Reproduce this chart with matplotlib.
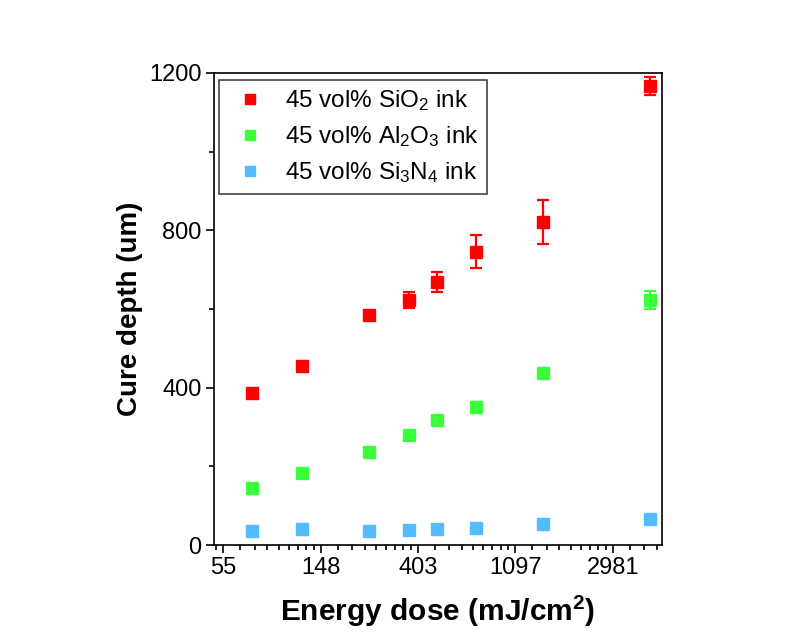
import numpy as np
import matplotlib
matplotlib.use("Agg")
import matplotlib.pyplot as plt
from matplotlib.lines import Line2D
from matplotlib.ticker import FixedLocator, FixedFormatter

plt.rcParams['font.family'] = ['Liberation Sans', 'DejaVu Sans']
plt.rcParams['mathtext.fontset'] = 'custom'
plt.rcParams['mathtext.rm'] = 'Liberation Sans'
plt.rcParams['mathtext.it'] = 'Liberation Sans:italic'
plt.rcParams['mathtext.bf'] = 'Liberation Sans:bold'

# energy dose (mJ/cm2)
dose = [73.2, 122, 244, 366, 488, 732, 1464, 4392]

sio2 = [386, 456, 584, 623, 669, 745, 821, 1167]
sio2_err = [8, 8, 6, 20, 26, 42, 56, 22]
al2o3 = [145, 182, 236, 280, 317, 352, 438, 623]
al2o3_err = [5, 6, 7, 6, 5, 7, 8, 23]
si3n4 = [36, 40, 36, 37, 41, 44, 53, 67]
si3n4_err = [5, 14, 6, 4, 6, 5, 6, 7]

labels = ['45 vol% SiO$_2$ ink', '45 vol% Al$_2$O$_3$ ink', '45 vol% Si$_3$N$_4$ ink']
colors = ['#ff0000', '#3cff3c', '#55bbff']

xtick_exp = [4, 5, 6, 7, 8]
xtick_labels = ['55', '148', '403', '1097', '2981']

fig = plt.figure(figsize=(8, 6.38), dpi=100)
ax = fig.add_axes([214/800, 1 - 545/638, 448/800, 472/638])

for y, e, c in zip([sio2, al2o3, si3n4], [sio2_err, al2o3_err, si3n4_err], colors):
    ax.errorbar(dose, y, yerr=e, fmt='s', color=c, ecolor=c, markersize=8,
                elinewidth=1.6, capsize=4, capthick=1.6)

ax.set_xscale('log', base=np.e)
ax.set_xlim(np.exp(3.904), np.exp(8.507))
ax.set_ylim(0, 1200)

ax.xaxis.set_major_locator(FixedLocator(np.exp(xtick_exp)))
ax.xaxis.set_major_formatter(FixedFormatter(xtick_labels))
minor = []
for n in range(3, 9):
    lo, hi = np.exp(n), np.exp(n + 1)
    minor += list(np.linspace(lo, hi, 10)[1:-1])
ax.xaxis.set_minor_locator(FixedLocator(minor))
ax.xaxis.set_minor_formatter(FixedFormatter([''] * len(minor)))

ax.set_yticks([0, 400, 800, 1200])
ax.set_yticks([200, 600, 1000], minor=True)

ax.tick_params(which='major', direction='out', length=6, width=1.2, labelsize=17, pad=3)
ax.tick_params(which='minor', direction='out', length=3.5, width=1.2)
ax.tick_params(top=False, right=False, which='both')
for s in ax.spines.values():
    s.set_linewidth(1.2)

ax.set_xlabel('Energy dose (mJ/cm$^\\mathbf{2}$)', fontsize=21.5, fontweight='bold', labelpad=10)
ax.set_ylabel('Cure depth (um)', fontsize=20, fontweight='bold', labelpad=4)

handles = [Line2D([], [], marker='s', linestyle='none', color=c, markersize=7) for c in colors]
leg = ax.legend(handles, labels, loc='upper left', fontsize=17.5, frameon=True, fancybox=False,
                edgecolor='black', handletextpad=0.5, borderpad=0.35, handlelength=1.85,
                labelspacing=0.45, borderaxespad=0, bbox_to_anchor=(0.012, 0.985))
leg.get_frame().set_linewidth(1.1)

fig.savefig('out.png', dpi=100)
